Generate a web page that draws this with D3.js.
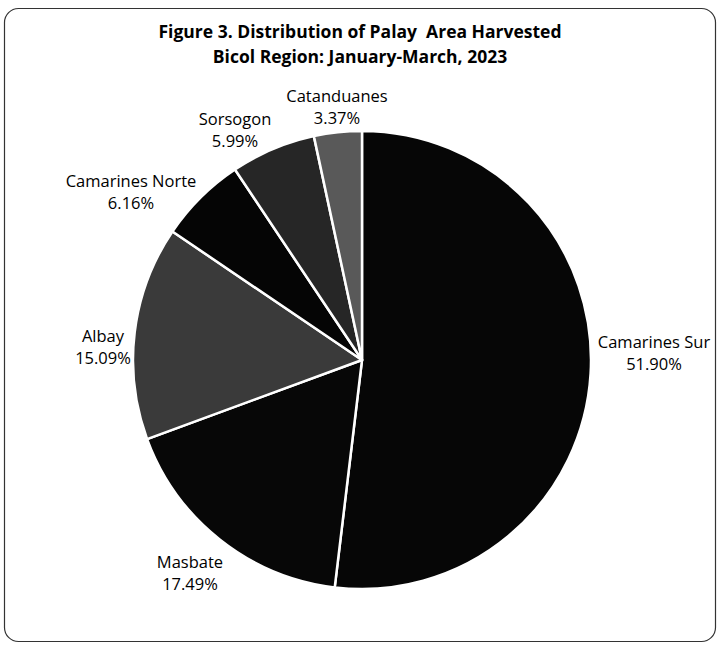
<!DOCTYPE html>
<html>
<head>
<meta charset="utf-8">
<script src="https://cdn.jsdelivr.net/npm/d3@7"></script>
<style>
  body { margin: 0; background: #fff; }
  svg { display: block; font-family: "Open Sans", Lato, sans-serif; }
</style>
</head>
<body>
<svg width="718" height="646"></svg>
<script>
const width = 718;
const height = 646;

// data, clockwise from 12 o'clock
const provinces = ["Camarines Sur", "Masbate", "Albay", "Camarines Norte", "Sorsogon", "Catanduanes"];
const shares = [51.90, 17.49, 15.09, 6.16, 5.99, 3.37];
const titleLines = ["Figure 3. Distribution of Palay  Area Harvested", "Bicol Region: January-March, 2023"];

const fills = ["#060606", "#070707", "#3a3a3a", "#050505", "#262626", "#595959"];
// label anchor points (baseline of first line)
const labelPos = [[654, 348], [190, 568], [103, 342], [131, 187], [235, 125], [337, 102]];

const cx = 362, cy = 360, radius = 229;

const data = provinces.map((p, i) => ({ name: p, value: shares[i] }));

const svg = d3.select("svg");

// outer frame
svg.append("rect")
    .attr("x", 4.5)
    .attr("y", 8.5)
    .attr("width", 711)
    .attr("height", 633)
    .attr("rx", 14)
    .attr("fill", "none")
    .attr("stroke", "#333")
    .attr("stroke-width", 1.2);

// title
svg.append("g")
    .selectAll("text")
    .data(titleLines)
    .enter()
    .append("text")
        .attr("x", 360)
        .attr("y", (d, i) => 38 + i * 25)
        .style("text-anchor", "middle")
        .style("font-weight", "bold")
        .style("font-size", "17.5px")
        .style("white-space", "pre")
        .attr("fill", "#000")
        .text(d => d);

const pie = d3.pie()
    .sort(null)
    .value(d => d.value);

const arc = d3.arc()
    .innerRadius(0)
    .outerRadius(radius);

svg.append("g")
    .attr("transform", "translate(" + cx + ", " + cy + ")")
    .selectAll("path")
    .data(pie(data))
    .enter()
    .append("path")
        .attr("d", arc)
        .attr("fill", (d, i) => fills[i])
        .attr("stroke", "#fff")
        .attr("stroke-width", 2.5)
        .attr("stroke-linejoin", "round");

// labels
const labels = svg.append("g")
    .selectAll("text")
    .data(data)
    .enter()
    .append("text")
        .attr("x", (d, i) => labelPos[i][0])
        .attr("y", (d, i) => labelPos[i][1])
        .style("text-anchor", "middle")
        .style("font-size", "16.5px")
        .attr("fill", "#000");

labels.append("tspan")
    .attr("x", (d, i) => labelPos[i][0])
    .text(d => d.name);
labels.append("tspan")
    .attr("x", (d, i) => labelPos[i][0])
    .attr("dy", 22)
    .text(d => d.value.toFixed(2) + "%");
</script>
</body>
</html>
